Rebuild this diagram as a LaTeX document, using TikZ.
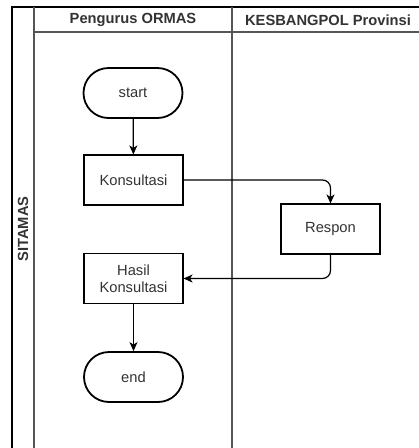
\documentclass[tikz,border=0pt]{standalone}
\usepackage{fontspec}
\setmainfont{Liberation Sans}
\usetikzlibrary{arrows.meta}
\definecolor{ink}{HTML}{333333}
\definecolor{lanegray}{HTML}{555555}
\begin{document}
\begin{tikzpicture}[x=1pt,y=-1pt,
  pool/.style={line width=1.5pt,draw=black},
  lane/.style={line width=1.3pt,draw=lanegray},
  head/.style={font=\fontsize{14.7}{16}\selectfont\bfseries,text=ink},
  stepbox/.style={draw=black,line width=1.1pt,minimum width=99pt,minimum height=50pt,
    inner sep=2pt,align=center,font=\fontsize{14.7}{17}\selectfont,text=ink},
  terminal/.style={stepbox,line width=1.8pt,rounded corners=25pt},
  flow/.style={line width=1.2pt,draw=black,-{Stealth[length=9pt,width=8pt,inset=2.5pt]},rounded corners=8pt}]
\useasboundingbox (0,0) rectangle (419,448);
\fill[white] (0,0) rectangle (419,448);
\clip (0,0) rectangle (419,448);

% pool frame and lanes
\draw[pool] (12,460) -- (12,7) -- (430,7);
\draw[lane] (34,7) -- (34,460);
\draw[lane] (34,32) -- (430,32);
\draw[lane] (232,7) -- (232,460);

\node[head] (laneA) at (133,20) {Pengurus ORMAS};
\node[head] (laneB) at (328,20) {KESBANGPOL Provinsi};
\node[head,rotate=90] (poolname) at (23,229) {SITAMAS};

% flow
\node[terminal] (start) at (133,93) {start};
\node[stepbox] (kons) at (133.5,180) {Konsultasi};
\node[stepbox] (respon) at (330.5,229) {Respon};
\node[stepbox] (hasil) at (133.5,278.5) {Hasil\\Konsultasi};
\node[terminal] (end) at (133.5,377) {end};

\draw[flow] (start) -- (kons);
\draw[flow] (kons.east) -- (respon.north |- kons.east) -- (respon.north);
\draw[flow] (respon.south) -- (respon.south |- hasil.east) -- (hasil.east);
\draw[flow] (hasil) -- (end);
\end{tikzpicture}
\end{document}
